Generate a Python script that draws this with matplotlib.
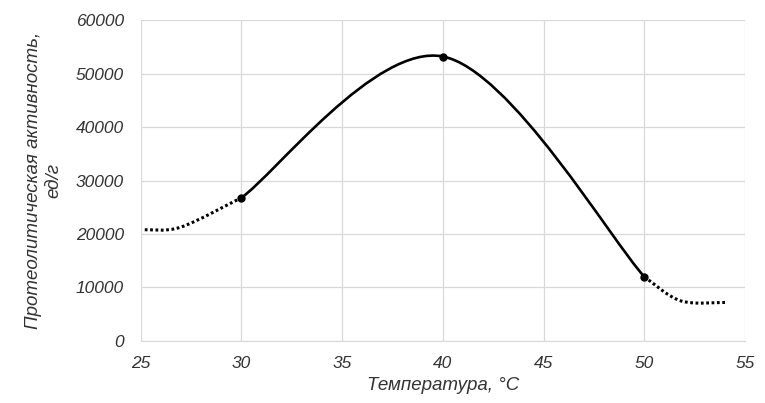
import matplotlib
matplotlib.use('Agg')
import matplotlib.pyplot as plt
from matplotlib.path import Path
from matplotlib.patches import PathPatch

# Measured points (solid, smoothed)
solid_temps = [30, 40, 50]
solid_activity = [26800, 53200, 12000]

# Dotted extensions on both ends
left_temps = [25.2, 27, 30]
left_activity = [20800, 21300, 26800]
right_temps = [50, 51.8, 54]
right_activity = [12000, 7500, 7200]

x_ticks = [25, 30, 35, 40, 45, 50, 55]
y_ticks = [0, 10000, 20000, 30000, 40000, 50000, 60000]

plt.rcParams['font.family'] = ['Liberation Sans', 'DejaVu Sans']
plt.rcParams['font.style'] = 'italic'


def smooth_path(xs, ys):
    # Excel-style smoothed line: Catmull-Rom control points -> cubic Bezier
    pts = list(zip(xs, ys))
    n = len(pts)
    verts = [pts[0]]
    codes = [Path.MOVETO]
    for i in range(n - 1):
        p0 = pts[max(i - 1, 0)]
        p1 = pts[i]
        p2 = pts[i + 1]
        p3 = pts[min(i + 2, n - 1)]
        c1 = (p1[0] + (p2[0] - p0[0]) / 6, p1[1] + (p2[1] - p0[1]) / 6)
        c2 = (p2[0] - (p3[0] - p1[0]) / 6, p2[1] - (p3[1] - p1[1]) / 6)
        verts += [c1, c2, p2]
        codes += [Path.CURVE4] * 3
    return Path(verts, codes)


fig = plt.figure(figsize=(7.65, 4.03), dpi=100)
ax = fig.add_axes([0.184, 0.154, 0.790, 0.796])

ax.add_patch(PathPatch(smooth_path(solid_temps, solid_activity), facecolor='none',
                       edgecolor='black', lw=1.9, zorder=3))
for xs, ys in [(left_temps, left_activity), (right_temps, right_activity)]:
    ax.add_patch(PathPatch(smooth_path(xs, ys), facecolor='none', edgecolor='black',
                           lw=2.2, linestyle=(0, (0.9, 0.85)), capstyle='butt',
                           zorder=3))

ax.plot(solid_temps, solid_activity, 'o', color='black', markersize=5, zorder=4)

ax.set_xlim(25, 55)
ax.set_ylim(0, 60000)
ax.set_xticks(x_ticks)
ax.set_yticks(y_ticks)
ax.tick_params(length=0, labelsize=12.5, colors='#333333')
ax.tick_params(axis='x', pad=11)
ax.tick_params(axis='y', pad=12)
ax.grid(True, color='#d9d9d9', lw=0.9)
ax.set_axisbelow(True)
for side in ['top', 'right', 'left']:
    ax.spines[side].set_visible(False)
ax.spines['bottom'].set_color('#d9d9d9')

ax.set_xlabel('Температура, °C', fontsize=13.5, color='#333333', labelpad=4)
ax.set_ylabel('Протеолитическая активность,\nед/г', fontsize=13.5,
              color='#333333', labelpad=10, linespacing=1.25)

plt.savefig('out.png', dpi=100)
